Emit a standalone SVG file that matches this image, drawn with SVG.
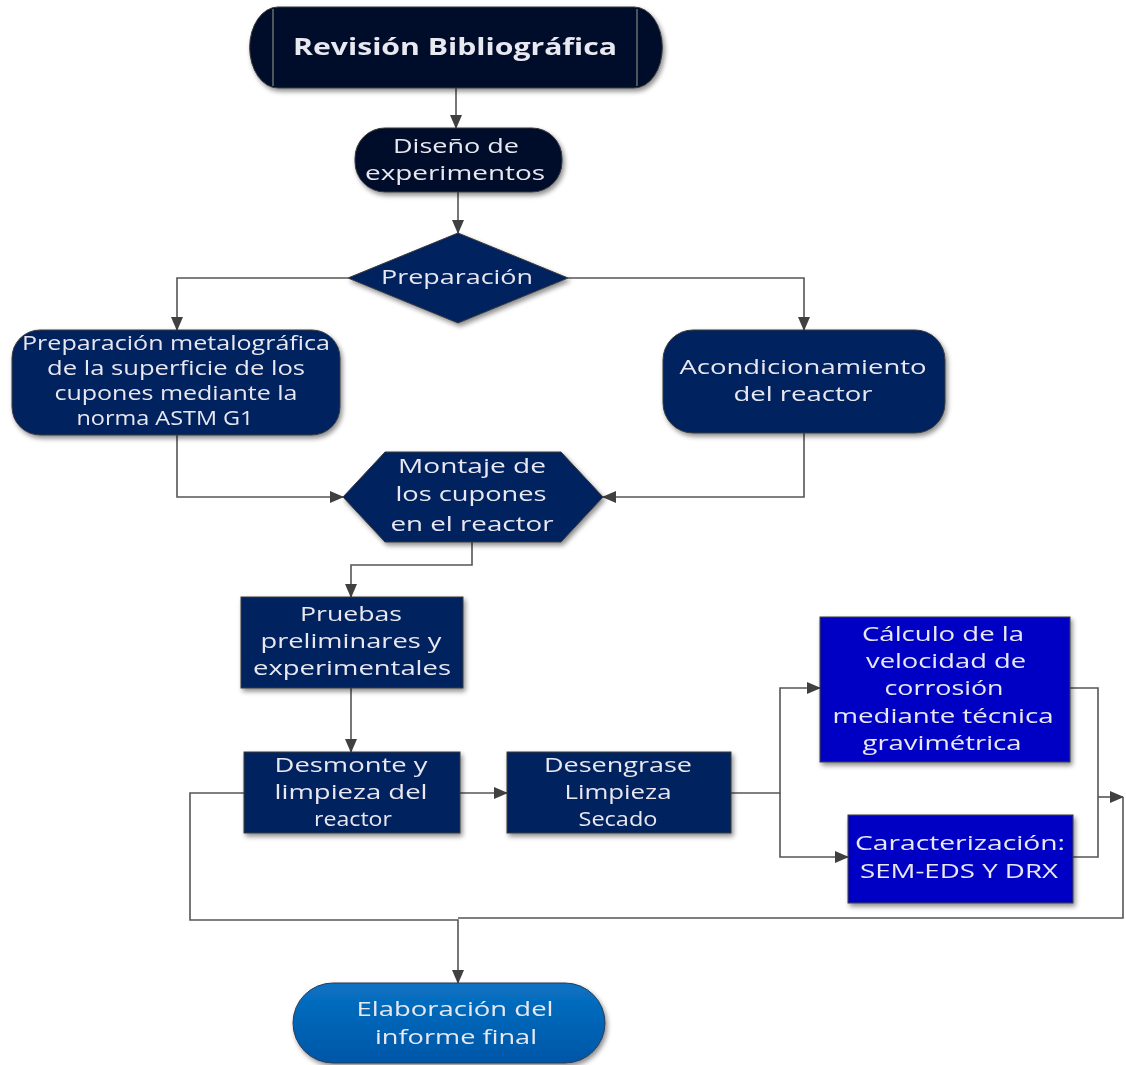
<svg xmlns="http://www.w3.org/2000/svg" width="1126" height="1065" viewBox="0 0 1126 1065">
<defs>
<marker id="arr" markerUnits="userSpaceOnUse" markerWidth="14" markerHeight="12" refX="13" refY="6" orient="auto">
<path d="M0,0 L14,6 L0,12 Z" fill="#404040"/>
</marker>
<filter id="sh" x="-10%" y="-10%" width="125%" height="130%">
<feGaussianBlur in="SourceAlpha" stdDeviation="2.5"/>
<feOffset dx="2" dy="3" result="b"/>
<feComponentTransfer><feFuncA type="linear" slope="0.45"/></feComponentTransfer>
<feMerge><feMergeNode/><feMergeNode in="SourceGraphic"/></feMerge>
</filter>
<linearGradient id="gElab" x1="0" y1="0" x2="0" y2="1">
<stop offset="0" stop-color="#0872c4"/>
<stop offset="1" stop-color="#0055a6"/>
</linearGradient>
</defs>
<style>
.t{font-family:"Open Sans","Liberation Sans",sans-serif;font-size:20px;fill:#e8e8f0;text-anchor:middle;}
.b{font-weight:bold;font-size:23px;}
.dk{fill:#020c2c;stroke:#3a3a3a;stroke-width:1;}
.nv{fill:#03205e;stroke:#3a3a3a;stroke-width:1;}
.bl{fill:#0606c4;stroke:#3a3a3a;stroke-width:1;}
.c{fill:none;stroke:#555;stroke-width:1.6;}
.a{marker-end:url(#arr);}
</style>
<rect width="1126" height="1065" fill="#ffffff"/>

<g id="connectors">
<path class="c a" d="M456,88 V128"/>
<path class="c a" d="M458,192 V233"/>
<path class="c a" d="M348,278 H177 V330"/>
<path class="c a" d="M568,278 H804 V330"/>
<path class="c a" d="M177,435 V497 H343"/>
<path class="c a" d="M804,433 V497 H603"/>
<path class="c a" d="M472,542 V565 H351 V597"/>
<path class="c a" d="M351,688 V752"/>
<path class="c a" d="M460,793 H507"/>
<path class="c a" d="M731,793 H780 V688 H820"/>
<path class="c a" d="M780,793 V857 H848"/>
<path class="c" d="M1070,688 H1098 V857 H1073"/>
<path class="c a" d="M1098,797 H1123"/>
<path class="c" d="M1123,797 V918 H458"/>
<path class="c a" d="M244,793 H190 V920 H458 V983"/>
</g>

<g id="n-revision" filter="url(#sh)">
<path class="dk" d="M278,7 H634 A28,40 0 0 1 634,88 H278 A28,40 0 0 1 278,7 Z"/>
<line x1="273" y1="9" x2="273" y2="86" stroke="#6a6a6a" stroke-width="1.5"/>
<line x1="637" y1="9" x2="637" y2="86" stroke="#6a6a6a" stroke-width="1.5"/>
<text class="t b" x="455" y="55" textLength="324" lengthAdjust="spacingAndGlyphs">Revisión Bibliográfica</text>
</g>

<g id="n-diseno" filter="url(#sh)">
<rect class="dk" x="355" y="128" width="207" height="64" rx="30"/>
<text class="t" x="456" y="153" textLength="126" lengthAdjust="spacingAndGlyphs">Diseño de</text>
<text class="t" x="455" y="180" textLength="180" lengthAdjust="spacingAndGlyphs">experimentos</text>
</g>

<g id="n-preparacion" filter="url(#sh)">
<polygon class="nv" points="458,233 568,278 458,323 348,278"/>
<text class="t" x="457" y="284" textLength="152" lengthAdjust="spacingAndGlyphs">Preparación</text>
</g>

<g id="n-prepmet" filter="url(#sh)">
<rect class="nv" x="12" y="330" width="328" height="105" rx="28"/>
<text class="t" x="176" y="350" textLength="308" lengthAdjust="spacingAndGlyphs">Preparación metalográfica</text>
<text class="t" x="176" y="375" textLength="258" lengthAdjust="spacingAndGlyphs">de la superficie de los</text>
<text class="t" x="176" y="400" textLength="243" lengthAdjust="spacingAndGlyphs">cupones mediante la</text>
<text class="t" x="165" y="425" textLength="177" lengthAdjust="spacingAndGlyphs">norma ASTM G1</text>
</g>

<g id="n-acond" filter="url(#sh)">
<rect class="nv" x="663" y="330" width="282" height="103" rx="30"/>
<text class="t" x="803" y="374" textLength="247" lengthAdjust="spacingAndGlyphs">Acondicionamiento</text>
<text class="t" x="803" y="401" textLength="139" lengthAdjust="spacingAndGlyphs">del reactor</text>
</g>

<g id="n-montaje" filter="url(#sh)">
<polygon class="nv" points="343,497 385,452 561,452 603,497 561,542 385,542"/>
<text class="t" x="472" y="473" textLength="148" lengthAdjust="spacingAndGlyphs">Montaje de</text>
<text class="t" x="471" y="501" textLength="151" lengthAdjust="spacingAndGlyphs">los cupones</text>
<text class="t" x="472" y="531" textLength="163" lengthAdjust="spacingAndGlyphs">en el reactor</text>
</g>

<g id="n-pruebas" filter="url(#sh)">
<rect class="nv" x="241" y="597" width="222" height="91"/>
<text class="t" x="351" y="621" textLength="102" lengthAdjust="spacingAndGlyphs">Pruebas</text>
<text class="t" x="351" y="648" textLength="181" lengthAdjust="spacingAndGlyphs">preliminares y</text>
<text class="t" x="352" y="675" textLength="198" lengthAdjust="spacingAndGlyphs">experimentales</text>
</g>

<g id="n-desmonte" filter="url(#sh)">
<rect class="nv" x="244" y="752" width="216" height="81"/>
<text class="t" x="351" y="772" textLength="153" lengthAdjust="spacingAndGlyphs">Desmonte y</text>
<text class="t" x="351" y="799" textLength="153" lengthAdjust="spacingAndGlyphs">limpieza del</text>
<text class="t" x="353" y="826" textLength="78" lengthAdjust="spacingAndGlyphs">reactor</text>
</g>

<g id="n-desengrase" filter="url(#sh)">
<rect class="nv" x="507" y="752" width="224" height="81"/>
<text class="t" x="618" y="772" textLength="148" lengthAdjust="spacingAndGlyphs">Desengrase</text>
<text class="t" x="618" y="799" textLength="107" lengthAdjust="spacingAndGlyphs">Limpieza</text>
<text class="t" x="618" y="826" textLength="79" lengthAdjust="spacingAndGlyphs">Secado</text>
</g>

<g id="n-calculo" filter="url(#sh)">
<rect class="bl" x="820" y="617" width="250" height="145"/>
<text class="t" x="943" y="641" textLength="162" lengthAdjust="spacingAndGlyphs">Cálculo de la</text>
<text class="t" x="946" y="668" textLength="160" lengthAdjust="spacingAndGlyphs">velocidad de</text>
<text class="t" x="944" y="695" textLength="119" lengthAdjust="spacingAndGlyphs">corrosión</text>
<text class="t" x="943" y="723" textLength="221" lengthAdjust="spacingAndGlyphs">mediante técnica</text>
<text class="t" x="942" y="750" textLength="159" lengthAdjust="spacingAndGlyphs">gravimétrica</text>
</g>

<g id="n-caract" filter="url(#sh)">
<rect class="bl" x="848" y="815" width="225" height="88"/>
<text class="t" x="960" y="850" textLength="210" lengthAdjust="spacingAndGlyphs">Caracterización:</text>
<text class="t" x="959" y="878" textLength="198" lengthAdjust="spacingAndGlyphs">SEM-EDS Y DRX</text>
</g>

<g id="n-elab" filter="url(#sh)">
<rect x="293" y="983" width="312" height="80" rx="40" fill="url(#gElab)" stroke="#2a3a55" stroke-width="1"/>
<text class="t" x="455" y="1016" textLength="197" lengthAdjust="spacingAndGlyphs">Elaboración del</text>
<text class="t" x="456" y="1044" textLength="162" lengthAdjust="spacingAndGlyphs">informe final</text>
</g>
</svg>
